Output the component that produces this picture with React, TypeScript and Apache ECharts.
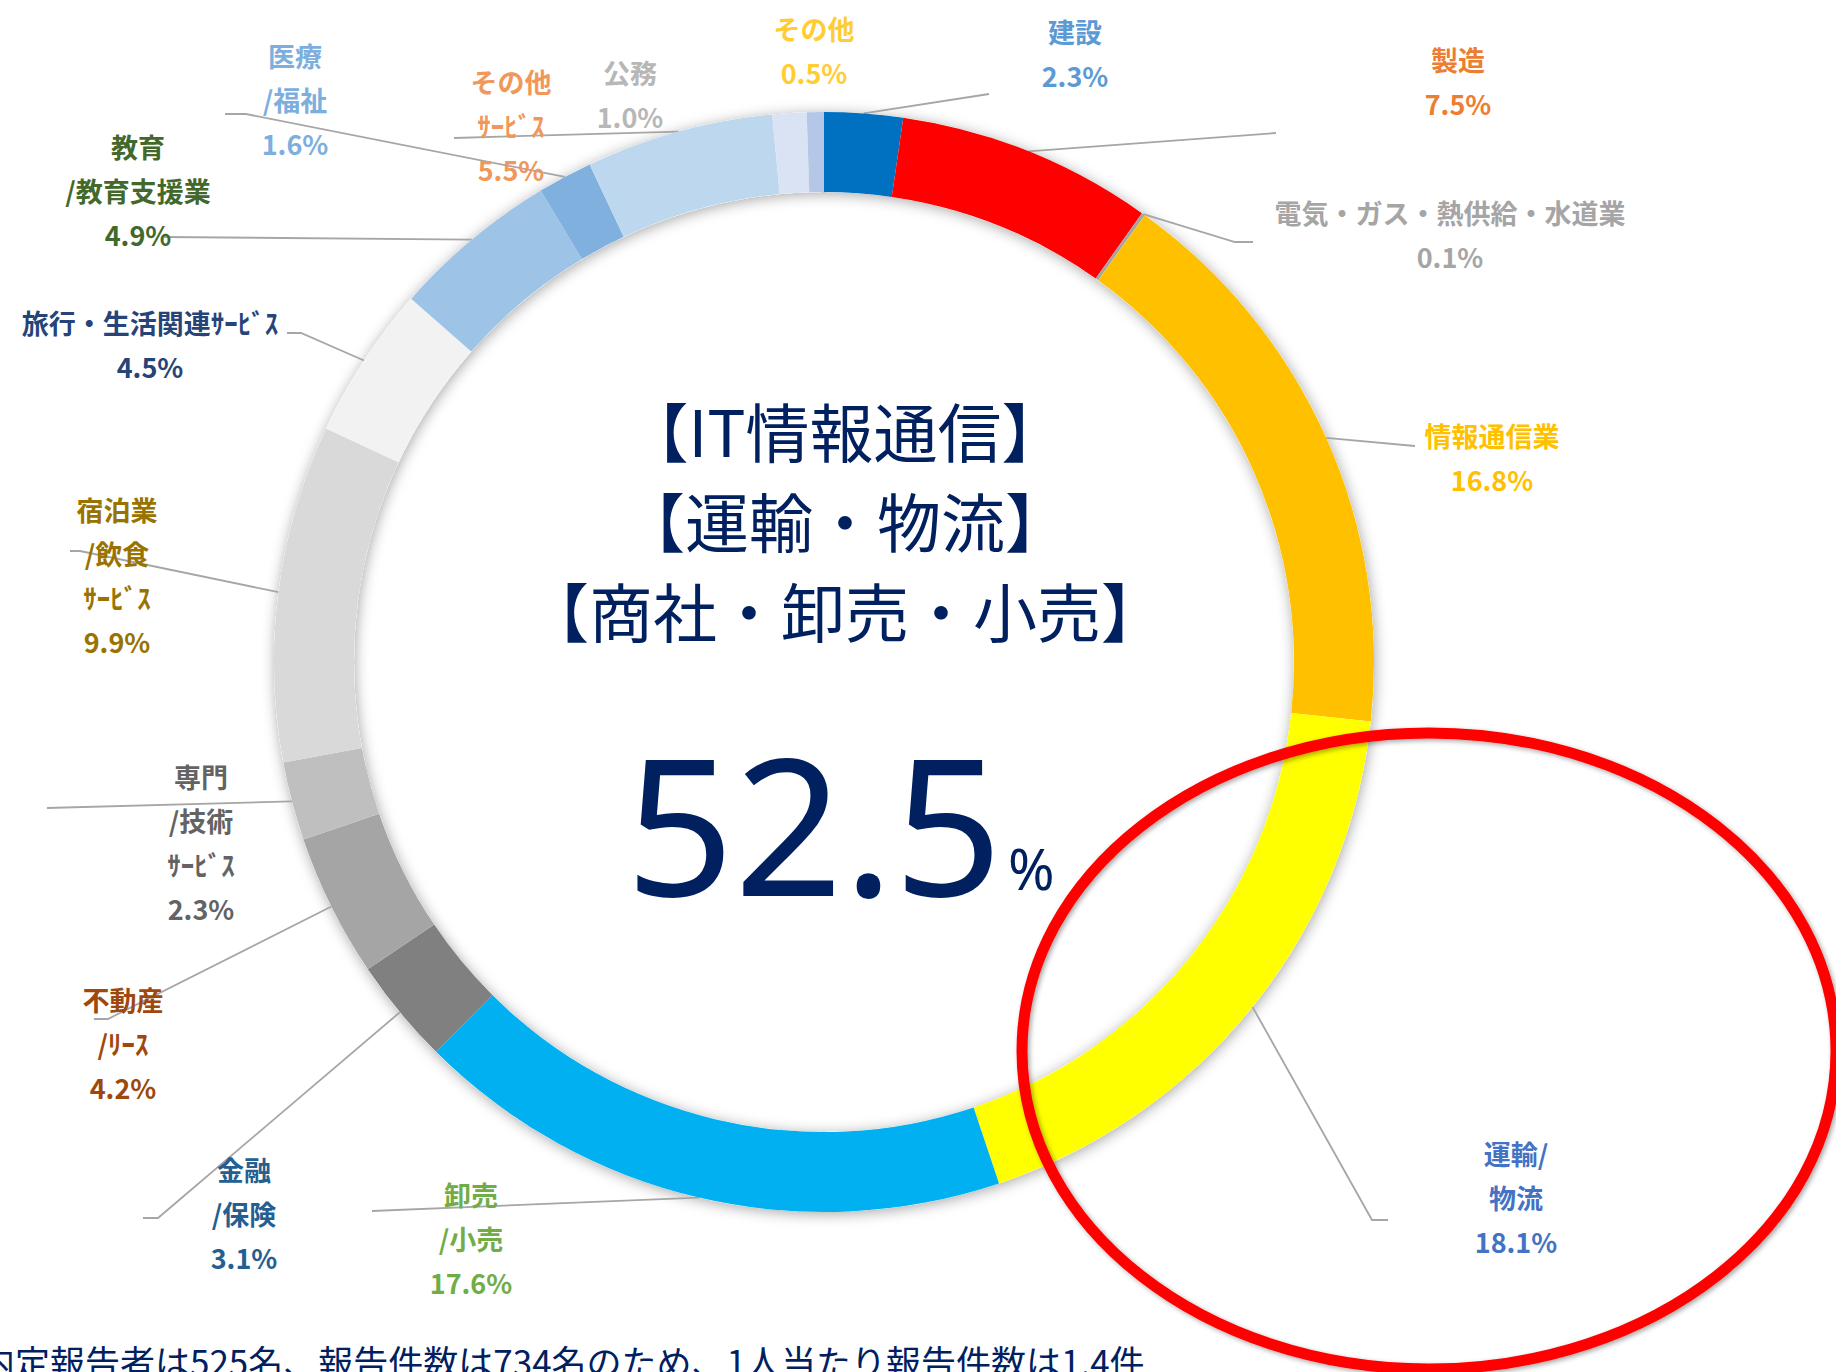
import React, { useEffect, useRef } from 'react';
import * as echarts from 'echarts';

// ---- data ----
const categories = [
  '建設',
  '製造',
  '電気・ガス・熱供給・水道業',
  '情報通信業',
  '運輸/\n物流',
  '卸売\n/小売',
  '金融\n/保険',
  '不動産\n/ﾘｰｽ',
  '専門\n/技術\nｻｰﾋﾞｽ',
  '宿泊業\n/飲食\nｻｰﾋﾞｽ',
  '旅行・生活関連ｻｰﾋﾞｽ',
  '教育\n/教育支援業',
  '医療\n/福祉',
  'その他\nｻｰﾋﾞｽ',
  '公務',
  'その他',
];
const shares = [2.3, 7.5, 0.1, 16.8, 18.1, 17.6, 3.1, 4.2, 2.3, 9.9, 4.5, 4.9, 1.6, 5.5, 1.0, 0.5];
const highlightTotal = '52.5';
const centerLines = ['【IT情報通信】', '【運輸・物流】', '【商社・卸売・小売】'];
const footnote = '内定報告者は525名、報告件数は734名のため、1人当たり報告件数は1.4件';

// ---- styles / layout ----
const sliceColors = ['#0070C0', '#FF0000', '#A5A5A5', '#FFC000', '#FFFF00', '#00B0F0', '#808080', '#A5A5A5', '#BFBFBF', '#D9D9D9', '#F2F2F2', '#9DC3E6', '#7FB0DE', '#BDD7EE', '#DAE3F3', '#B4C7E7'];
const labelColors = ['#5B9BD5', '#ED7D31', '#A5A5A5', '#FFC000', '#4472C4', '#70AD47', '#255E91', '#9E480E', '#636363', '#997300', '#264478', '#43682B', '#7CAFDD', '#F1975A', '#B7B7B7', '#FFCD33'];
const labelCenters: number[][] = [
  [1075, 53], [1458, 81], [1450, 234], [1492, 457], [1516, 1197], [471, 1238], [244, 1213], [123, 1043],
  [201, 842], [117, 575], [150, 344], [138, 190], [295, 99], [511, 125], [630, 94], [814, 50],
];
const leaderBends: (number[][] | null)[] = [
  [[989, 94], [989, 94]],
  [[1276, 133], [1276, 133]],
  [[1235, 242], [1253, 242]],
  [[1415, 446], [1415, 446]],
  [[1372, 1220], [1388, 1220]],
  [[372, 1211], [372, 1211]],
  [[158, 1218], [143, 1218]],
  [[108, 1019], [94, 1019]],
  [[47, 808], [47, 808]],
  [[80, 551], [70, 551]],
  [[301, 333], [287, 333]],
  [[164, 237], [164, 237]],
  [[246, 114], [225, 114]],
  [[454, 138], [454, 138]],
  null,
  null,
];

const CX = 824;
const CY = 662;
const R_IN = 470;
const R_OUT = 550;
const NAVY = '#002060';
const CJK = '"Noto Sans CJK JP", "Noto Sans", sans-serif';

export default function App() {
  const ref = useRef<HTMLDivElement>(null);

  useEffect(() => {
    const chart = echarts.init(ref.current!, null, { renderer: 'svg' });
    const data = categories.map((name, i) => ({
      name,
      value: shares[i],
      itemStyle: { color: sliceColors[i] },
      label: { color: labelColors[i] },
      labelLine: { show: leaderBends[i] != null },
    }));

    const option: any = {
      animation: false,
      backgroundColor: '#ffffff',
      graphic: [
        {
          type: 'ring',
          z: 0,
          silent: true,
          shape: { cx: CX, cy: CY, r: R_OUT, r0: R_IN },
          style: { fill: '#ffffff', shadowBlur: 14, shadowColor: 'rgba(0,0,0,0.35)', shadowOffsetX: 1, shadowOffsetY: 2 },
        },
        ...centerLines.map((t, i) => ({
          type: 'text',
          z: 50,
          x: 845,
          y: 429 + i * 90,
          style: { text: t, fill: NAVY, font: `normal 64px ${CJK}`, align: 'center', verticalAlign: 'middle' },
        })),
        {
          type: 'text',
          z: 50,
          x: 814,
          y: 822,
          style: { text: highlightTotal, fill: NAVY, font: 'normal 190px "Noto Sans", sans-serif', align: 'center', verticalAlign: 'middle' },
        },
        {
          type: 'text',
          z: 50,
          x: 1008,
          y: 868,
          style: { text: '%', fill: NAVY, font: 'normal 56px "Noto Sans", sans-serif', align: 'left', verticalAlign: 'middle' },
        },
        {
          type: 'text',
          z: 50,
          x: -20,
          y: 1360,
          style: { text: footnote, fill: NAVY, font: `normal 35px ${CJK}`, align: 'left', verticalAlign: 'middle' },
        },
        {
          type: 'ellipse',
          z: 100,
          silent: true,
          shape: { cx: 1429, cy: 1051, rx: 407, ry: 318 },
          style: { fill: 'none', stroke: '#FF0000', lineWidth: 11, shadowBlur: 5, shadowColor: 'rgba(0,0,0,0.35)', shadowOffsetX: 2, shadowOffsetY: 2 },
        },
      ],
      series: [
        {
          type: 'pie',
          z: 2,
          center: [CX, CY],
          radius: [R_IN, R_OUT],
          startAngle: 90,
          clockwise: true,
          avoidLabelOverlap: false,
          emphasis: { disabled: true },
          itemStyle: { borderWidth: 0 },
          label: {
            show: true,
            position: 'outside',
            fontFamily: CJK,
            fontWeight: 'bold',
            fontSize: 27,
            lineHeight: 44,
            align: 'center',
            formatter: (p: any) => `${p.name}\n${Number(p.value).toFixed(1)}%`,
          },
          labelLine: { show: true, length: 20, length2: 10, lineStyle: { color: '#A6A6A6', width: 1.8 } },
          labelLayout: (params: any) => {
            const i = params.dataIndex;
            const [x, y] = labelCenters[i];
            const res: any = { x, y, align: 'center', verticalAlign: 'middle' };
            const bend = leaderBends[i];
            if (bend && params.labelLinePoints) {
              res.labelLinePoints = [params.labelLinePoints[0], bend[0], bend[1]];
            }
            return res;
          },
          data,
        },
      ],
    };
    chart.setOption(option);
    return () => chart.dispose();
  }, []);

  return (
    <div
      ref={ref}
      style={{ position: 'fixed', left: 0, top: 0, width: 1836, height: 1372, background: '#fff' }}
    />
  );
}
